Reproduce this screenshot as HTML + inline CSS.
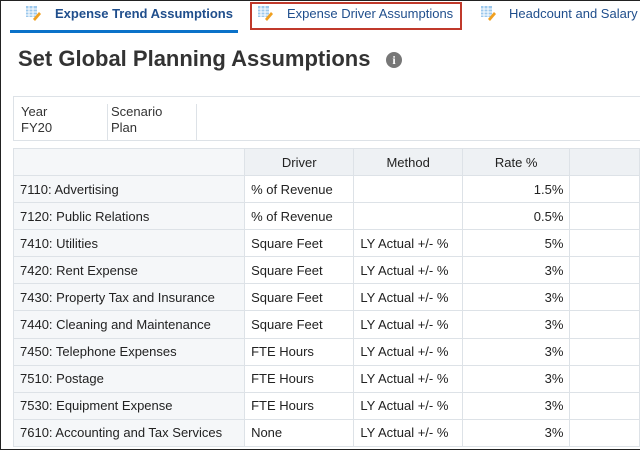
<!DOCTYPE html>
<html><head><style>
*{margin:0;padding:0;box-sizing:border-box}
body{width:640px;height:450px;overflow:hidden;background:#fff;font-family:"Liberation Sans",sans-serif;position:relative;color:#333}
.frame{position:absolute;left:0;top:0;width:640px;height:450px;border:1px solid #222;border-right:none;pointer-events:none}
.tab{position:absolute;top:6px;font-size:13px;color:#1f4e8c}
.ico{position:absolute;top:5px;width:16px;height:16px}
.ul{position:absolute;left:10px;top:30px;width:228px;height:3px;background:#0b72c9}
.red{position:absolute;left:250px;top:2px;width:212px;height:28px;border:2px solid #c0392b}
h1{position:absolute;left:18px;top:46px;font-size:22px;font-weight:bold;color:#333}
.info{position:absolute;left:386px;top:52px;width:16px;height:16px;border-radius:50%;background:#777;color:#fff;font-size:12px;font-weight:bold;text-align:center;line-height:16px;font-family:"Liberation Serif",serif}
.pov{position:absolute;left:13px;top:96px;width:627px;height:45px;border-top:1px solid #dde2e7;border-bottom:1px solid #dde2e7;border-left:1px solid #dde2e7}
.pov div{position:absolute;top:7px;font-size:13px;line-height:16px;color:#333}
.pv{position:absolute;top:4px;width:1px;height:36px;background:#dde2e7}
table{position:absolute;left:13px;top:148px;border-collapse:collapse;font-size:13px;table-layout:fixed}
td{height:27.1px;border:1px solid #dde2e7;padding:0 6px;white-space:nowrap;color:#222}
tr.h td{background:#eef1f4;text-align:center;height:27px}
tr.h td:first-child{background:#f5f7f9}
td.r{background:#f5f7f9}
td.n{text-align:right}
</style></head><body>
<svg class="ico" style="left:25px" viewBox="0 0 16 16"><rect x="1" y="1" width="11" height="11" fill="#9cc8ec"/><path d="M1 4h11M1 7h11M1 10h11M4 1v11M8 1v11" stroke="#fff"/><path d="M8 14l6-7 2 2-6 7z" fill="#f0a020"/></svg>
<div class="tab" style="left:55px;font-weight:bold">Expense Trend Assumptions</div>
<svg class="ico" style="left:257px" viewBox="0 0 16 16"><rect x="1" y="1" width="11" height="11" fill="#9cc8ec"/><path d="M1 4h11M1 7h11M1 10h11M4 1v11M8 1v11" stroke="#fff"/><path d="M8 14l6-7 2 2-6 7z" fill="#f0a020"/></svg>
<div class="tab" style="left:287px">Expense Driver Assumptions</div>
<svg class="ico" style="left:480px" viewBox="0 0 16 16"><rect x="1" y="1" width="11" height="11" fill="#9cc8ec"/><path d="M1 4h11M1 7h11M1 10h11M4 1v11M8 1v11" stroke="#fff"/><path d="M8 14l6-7 2 2-6 7z" fill="#f0a020"/></svg>
<div class="tab" style="left:509px">Headcount and Salary</div>
<div class="ul"></div><div class="red"></div>
<h1>Set Global Planning Assumptions</h1><div class="info">i</div>
<div class="pov"><div style="left:7px">Year<br>FY20</div><div class="pv" style="left:93px"></div><div style="left:97px">Scenario<br>Plan</div><div class="pv" style="left:182px"></div></div>
<table>
<colgroup><col style="width:234px"><col style="width:112px"><col style="width:110px"><col style="width:117px"><col style="width:80px"></colgroup>
<tr class="h"><td></td><td>Driver</td><td>Method</td><td>Rate %</td><td></td></tr>
<tr><td class="r">7110: Advertising</td><td>% of Revenue</td><td></td><td class="n">1.5%</td><td></td></tr>
<tr><td class="r">7120: Public Relations</td><td>% of Revenue</td><td></td><td class="n">0.5%</td><td></td></tr>
<tr><td class="r">7410: Utilities</td><td>Square Feet</td><td>LY Actual +/- %</td><td class="n">5%</td><td></td></tr>
<tr><td class="r">7420: Rent Expense</td><td>Square Feet</td><td>LY Actual +/- %</td><td class="n">3%</td><td></td></tr>
<tr><td class="r">7430: Property Tax and Insurance</td><td>Square Feet</td><td>LY Actual +/- %</td><td class="n">3%</td><td></td></tr>
<tr><td class="r">7440: Cleaning and Maintenance</td><td>Square Feet</td><td>LY Actual +/- %</td><td class="n">3%</td><td></td></tr>
<tr><td class="r">7450: Telephone Expenses</td><td>FTE Hours</td><td>LY Actual +/- %</td><td class="n">3%</td><td></td></tr>
<tr><td class="r">7510: Postage</td><td>FTE Hours</td><td>LY Actual +/- %</td><td class="n">3%</td><td></td></tr>
<tr><td class="r">7530: Equipment Expense</td><td>FTE Hours</td><td>LY Actual +/- %</td><td class="n">3%</td><td></td></tr>
<tr><td class="r">7610: Accounting and Tax Services</td><td>None</td><td>LY Actual +/- %</td><td class="n">3%</td><td></td></tr>
</table>
<div class="frame"></div>
</body></html>
